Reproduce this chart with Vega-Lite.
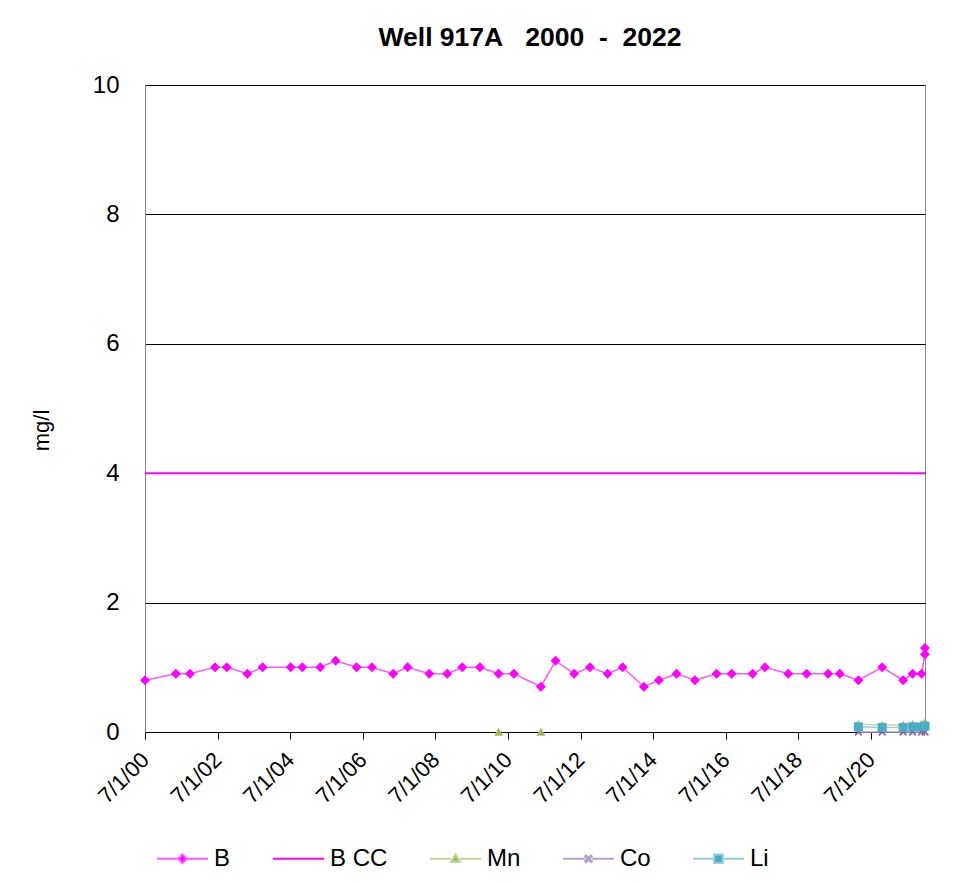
{
  "$schema": "https://vega.github.io/schema/vega-lite/v6.json",
  "autosize": {"type": "none"},
  "padding": {"left": 145, "top": 85, "right": 41, "bottom": 150},
  "width": 780,
  "height": 647,
  "title": {
    "text": "Well 917A\u00a0\u00a0\u00a02000\u00a0\u00a0-\u00a0\u00a02022",
    "fontSize": 26.5,
    "fontWeight": "bold",
    "color": "#000000",
    "anchor": "middle",
    "frame": "group",
    "baseline": "alphabetic",
    "offset": 1,
    "dx": -5
  },
  "data": {
    "format": {"parse": {"date": "date:'%Y-%m-%d'"}},
    "values": [
      {"series": "B", "date": "2000-07-01", "value": 0.8, "run": 1},
      {"series": "B", "date": "2001-05-08", "value": 0.9, "run": 1},
      {"series": "B", "date": "2001-09-27", "value": 0.9, "run": 1},
      {"series": "B", "date": "2002-06-06", "value": 1.0, "run": 1},
      {"series": "B", "date": "2002-10-02", "value": 1.0, "run": 1},
      {"series": "B", "date": "2003-04-27", "value": 0.9, "run": 1},
      {"series": "B", "date": "2003-09-28", "value": 1.0, "run": 1},
      {"series": "B", "date": "2004-07-06", "value": 1.0, "run": 1},
      {"series": "B", "date": "2004-10-31", "value": 1.0, "run": 1},
      {"series": "B", "date": "2005-04-30", "value": 1.0, "run": 1},
      {"series": "B", "date": "2005-10-02", "value": 1.1, "run": 1},
      {"series": "B", "date": "2006-05-01", "value": 1.0, "run": 1},
      {"series": "B", "date": "2006-10-02", "value": 1.0, "run": 1},
      {"series": "B", "date": "2007-05-04", "value": 0.9, "run": 1},
      {"series": "B", "date": "2007-09-26", "value": 1.0, "run": 1},
      {"series": "B", "date": "2008-05-01", "value": 0.9, "run": 1},
      {"series": "B", "date": "2008-10-29", "value": 0.9, "run": 1},
      {"series": "B", "date": "2009-03-29", "value": 1.0, "run": 1},
      {"series": "B", "date": "2009-09-23", "value": 1.0, "run": 1},
      {"series": "B", "date": "2010-03-30", "value": 0.9, "run": 1},
      {"series": "B", "date": "2010-08-31", "value": 0.9, "run": 1},
      {"series": "B", "date": "2011-05-29", "value": 0.7, "run": 1},
      {"series": "B", "date": "2011-10-24", "value": 1.1, "run": 1},
      {"series": "B", "date": "2012-04-28", "value": 0.9, "run": 1},
      {"series": "B", "date": "2012-10-04", "value": 1.0, "run": 1},
      {"series": "B", "date": "2013-03-31", "value": 0.9, "run": 1},
      {"series": "B", "date": "2013-08-29", "value": 1.0, "run": 1},
      {"series": "B", "date": "2014-03-31", "value": 0.7, "run": 1},
      {"series": "B", "date": "2014-08-29", "value": 0.8, "run": 1},
      {"series": "B", "date": "2015-02-23", "value": 0.9, "run": 1},
      {"series": "B", "date": "2015-08-26", "value": 0.8, "run": 1},
      {"series": "B", "date": "2016-04-01", "value": 0.9, "run": 1},
      {"series": "B", "date": "2016-08-30", "value": 0.9, "run": 1},
      {"series": "B", "date": "2017-03-29", "value": 0.9, "run": 1},
      {"series": "B", "date": "2017-07-31", "value": 1.0, "run": 1},
      {"series": "B", "date": "2018-03-22", "value": 0.9, "run": 1},
      {"series": "B", "date": "2018-09-24", "value": 0.9, "run": 1},
      {"series": "B", "date": "2019-04-28", "value": 0.9, "run": 1},
      {"series": "B", "date": "2019-08-24", "value": 0.9, "run": 1},
      {"series": "B", "date": "2020-02-27", "value": 0.8, "run": 1},
      {"series": "B", "date": "2020-10-23", "value": 1.0, "run": 1},
      {"series": "B", "date": "2021-05-22", "value": 0.8, "run": 1},
      {"series": "B", "date": "2021-08-25", "value": 0.9, "run": 1},
      {"series": "B", "date": "2021-11-23", "value": 0.9, "run": 1},
      {"series": "B", "date": "2021-12-27", "value": 1.2, "run": 1},
      {"series": "B", "date": "2021-12-28", "value": 1.3, "run": 1},
      {"series": "B CC", "date": "2000-07-01", "value": 4, "run": 1},
      {"series": "B CC", "date": "2021-12-28", "value": 4, "run": 1},
      {"series": "Mn", "date": "2010-03-30", "value": 0, "run": 1},
      {"series": "Mn", "date": "2011-05-29", "value": 0, "run": 2},
      {"series": "Mn", "date": "2020-02-27", "value": 0.12, "run": 3},
      {"series": "Mn", "date": "2020-10-23", "value": 0.11, "run": 3},
      {"series": "Mn", "date": "2021-05-22", "value": 0.11, "run": 3},
      {"series": "Mn", "date": "2021-08-25", "value": 0.12, "run": 3},
      {"series": "Mn", "date": "2021-11-23", "value": 0.12, "run": 3},
      {"series": "Mn", "date": "2021-12-28", "value": 0.15, "run": 3},
      {"series": "Co", "date": "2020-02-27", "value": 0, "run": 1},
      {"series": "Co", "date": "2020-10-23", "value": 0, "run": 1},
      {"series": "Co", "date": "2021-05-22", "value": 0, "run": 1},
      {"series": "Co", "date": "2021-08-25", "value": 0, "run": 1},
      {"series": "Co", "date": "2021-11-23", "value": 0, "run": 1},
      {"series": "Co", "date": "2021-12-28", "value": 0, "run": 1},
      {"series": "Li", "date": "2020-02-27", "value": 0.08, "run": 1},
      {"series": "Li", "date": "2020-10-23", "value": 0.07, "run": 1},
      {"series": "Li", "date": "2021-05-22", "value": 0.07, "run": 1},
      {"series": "Li", "date": "2021-08-25", "value": 0.08, "run": 1},
      {"series": "Li", "date": "2021-11-23", "value": 0.08, "run": 1},
      {"series": "Li", "date": "2021-12-28", "value": 0.09, "run": 1}
    ]
  },
  "encoding": {
    "x": {
      "field": "date",
      "type": "temporal",
      "scale": {
        "domain": [
          {"year": 2000, "month": 7, "date": 1},
          {"year": 2021, "month": 12, "date": 28}
        ]
      },
      "axis": {
        "title": null,
        "grid": false,
        "values": [
          {"year": 2000, "month": 7, "date": 1},
          {"year": 2002, "month": 7, "date": 1},
          {"year": 2004, "month": 7, "date": 1},
          {"year": 2006, "month": 7, "date": 1},
          {"year": 2008, "month": 7, "date": 1},
          {"year": 2010, "month": 7, "date": 1},
          {"year": 2012, "month": 7, "date": 1},
          {"year": 2014, "month": 7, "date": 1},
          {"year": 2016, "month": 7, "date": 1},
          {"year": 2018, "month": 7, "date": 1},
          {"year": 2020, "month": 7, "date": 1}
        ],
        "format": "%-m/%-d/%y",
        "labelAngle": -45,
        "labelAlign": "right",
        "labelBaseline": "middle",
        "labelFontSize": 22,
        "labelColor": "#000000",
        "labelPadding": 17,
        "labelOverlap": false,
        "labelFlush": false,
        "domainColor": "#000000",
        "domainWidth": 1,
        "tickColor": "#000000",
        "tickSize": 7,
        "tickWidth": 1
      }
    },
    "y": {
      "field": "value",
      "type": "quantitative",
      "scale": {"domain": [0, 10], "nice": false, "zero": true},
      "axis": {
        "title": "mg/l",
        "titleFontSize": 22,
        "titleFontWeight": "normal",
        "titleColor": "#000000",
        "titleBaseline": "middle",
        "titleX": -104,
        "titleY": 345,
        "values": [0, 2, 4, 6, 8, 10],
        "labelFontSize": 24,
        "labelColor": "#000000",
        "labelPadding": 26,
        "tickSize": 0,
        "ticks": false,
        "domainColor": "#868686",
        "grid": true,
        "gridColor": "#000000",
        "gridWidth": 1,
        "gridOpacity": 1
      }
    }
  },
  "layer": [
    {
      "transform": [{"filter": "datum.series !== 'B CC'"}],
      "mark": {"type": "line", "strokeWidth": 1.5},
      "encoding": {
        "detail": {"field": "run", "type": "nominal"},
        "stroke": {
          "field": "series",
          "type": "nominal",
          "scale": {
            "domain": ["B", "B CC", "Mn", "Co", "Li"],
            "range": ["#ff55ff", "#ff00ff", "#c3d69b", "#b3a2c7", "#93cddd"]
          },
          "legend": {
            "title": null,
            "orient": "none",
            "direction": "horizontal",
            "columns": 5,
            "legendX": 11,
            "legendY": 747,
            "padding": 0,
            "symbolSize": 2601,
            "symbolStrokeWidth": 2,
            "labelFontSize": 24,
            "labelColor": "#000000",
            "labelOffset": 5,
            "columnPadding": 38,
            "rowPadding": 0,
            "labelLimit": 300,
            "encode": {
              "symbols": {
                "update": {
                  "shape": {"signal": "datum.value === 'B' ? 'M-1,0H-0.17M0.17,0H1M-0.17,0L0,-0.17L0.17,0L0,0.17Z' : datum.value === 'B CC' ? 'M-1,0H1' : datum.value === 'Mn' ? 'M-1,0H-0.17M0.17,0H1M0,-0.18L0.18,0.13L-0.18,0.13Z' : datum.value === 'Co' ? 'M-1,0H-0.14M0.14,0H1M-0.13,-0.095L-0.095,-0.13L0,-0.035L0.095,-0.13L0.13,-0.095L0.035,0L0.13,0.095L0.095,0.13L0,0.035L-0.095,0.13L-0.13,0.095L-0.035,0Z' : 'M-1,0H-0.17M0.17,0H1M-0.17,-0.17H0.17V0.17H-0.17Z'"},
                  "fill": {"signal": "datum.value === 'Mn' ? '#9bbb59' : datum.value === 'Co' ? '#8064a2' : datum.value === 'Li' ? '#4bacc6' : '#ff00ff'"},
                  "strokeWidth": {"value": 2},
                  "opacity": {"value": 1},
                  "fillOpacity": {"value": 1}
                }
              }
            }
          }
        }
      }
    },
    {
      "transform": [{"filter": "datum.series === 'B CC'"}],
      "mark": {"type": "line", "strokeWidth": 2},
      "encoding": {
        "stroke": {"field": "series", "type": "nominal"}
      }
    },
    {
      "transform": [{"filter": "datum.series === 'B'"}],
      "mark": {"type": "point", "filled": true, "size": 100, "opacity": 1, "strokeWidth": 0, "fill": "#ff00ff", "shape": "M-1,0L0,-1L1,0L0,1Z"},
      "encoding": {}
    },
    {
      "transform": [{"filter": "datum.series === 'Mn'"}],
      "mark": {"type": "point", "filled": true, "size": 100, "opacity": 1, "strokeWidth": 0, "fill": "#9bbb59", "shape": "M0,-0.85L0.9,0.75L-0.9,0.75Z"},
      "encoding": {}
    },
    {
      "transform": [{"filter": "datum.series === 'Co'"}],
      "mark": {"type": "point", "filled": true, "size": 100, "opacity": 1, "strokeWidth": 0, "fill": "#8064a2", "shape": "M-0.8,-0.574L-0.574,-0.8L0,-0.226L0.574,-0.8L0.8,-0.574L0.226,0L0.8,0.574L0.574,0.8L0,0.226L-0.574,0.8L-0.8,0.574L-0.226,0Z"},
      "encoding": {}
    },
    {
      "transform": [{"filter": "datum.series === 'Li'"}],
      "mark": {"type": "point", "filled": true, "size": 100, "opacity": 1, "strokeWidth": 0, "fill": "#4bacc6", "shape": "M-0.9,-0.9H0.9V0.9H-0.9Z"},
      "encoding": {}
    }
  ],
  "config": {
    "font": "Liberation Sans",
    "background": "#ffffff",
    "view": {"stroke": "#868686", "strokeWidth": 1}
  }
}
